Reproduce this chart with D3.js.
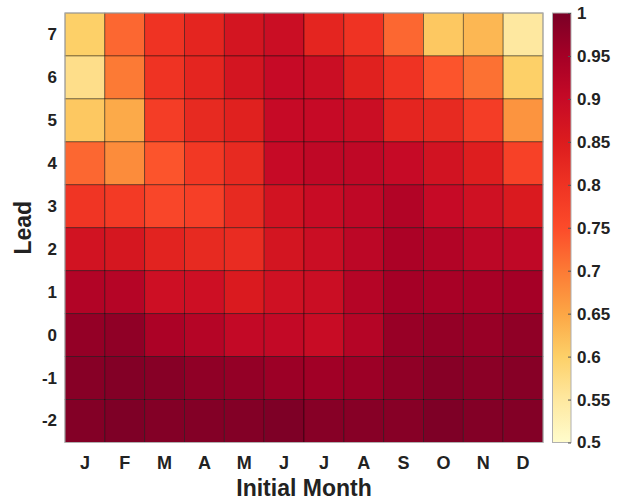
<!DOCTYPE html>
<html><head><meta charset="utf-8">
<script src="https://cdn.jsdelivr.net/npm/d3@7"></script>
<style>body{margin:0;background:#fff;} svg{display:block;}</style>
</head><body>
<script>
const months = ["J","F","M","A","M","J","J","A","S","O","N","D"];
const leads = [7,6,5,4,3,2,1,0,-1,-2];
// values[row][col], rows in order of `leads`
const lead7  = [0.60,0.72,0.80,0.83,0.87,0.89,0.83,0.80,0.72,0.61,0.63,0.55];
const lead6  = [0.57,0.70,0.80,0.83,0.87,0.90,0.89,0.84,0.80,0.74,0.71,0.60];
const lead5  = [0.61,0.645,0.78,0.82,0.84,0.90,0.90,0.89,0.83,0.82,0.78,0.67];
const lead4  = [0.72,0.68,0.74,0.79,0.82,0.90,0.91,0.91,0.90,0.875,0.845,0.77];
const lead3  = [0.795,0.785,0.76,0.775,0.82,0.875,0.895,0.91,0.93,0.90,0.88,0.855];
const lead2  = [0.875,0.865,0.835,0.82,0.815,0.87,0.89,0.915,0.94,0.93,0.915,0.91];
const lead1  = [0.93,0.925,0.885,0.885,0.855,0.88,0.89,0.925,0.95,0.945,0.945,0.95];
const lead0  = [0.97,0.975,0.94,0.925,0.905,0.905,0.895,0.925,0.965,0.97,0.965,0.975];
const leadm1 = [0.985,0.99,0.985,0.975,0.97,0.96,0.955,0.96,0.975,0.985,0.98,0.985];
const leadm2 = [0.99,0.995,0.99,0.99,0.99,0.995,0.985,0.985,0.985,0.995,0.99,0.99];
const values = [lead7,lead6,lead5,lead4,lead3,lead2,lead1,lead0,leadm1,leadm2];
const cbTicks = [0.5,0.55,0.6,0.65,0.7,0.75,0.8,0.85,0.9,0.95,1];
const cbColors = ["#fffccc","#fee8a0","#fdd068","#fca645","#fc7a35","#fc4b2a","#ef3323","#dc1c1e","#c60a26","#a50026","#7a0026"];

(function(){
const W = 621, H = 500;
const pL = 65, pR = 543, pT = 13, pB = 442.5;
const cbL = 552.5, cbR = 571;
const font = "'Liberation Sans', Arial, Helvetica, sans-serif";

const svg = d3.select("body").append("svg").attr("width", W).attr("height", H);

const x = d3.scaleBand().domain(d3.range(months.length)).range([pL, pR]);
const y = d3.scaleBand().domain(leads).range([pT, pB]);
const color = d3.scaleLinear().domain(cbTicks).range(cbColors).interpolate(d3.interpolateRgb).clamp(true);

const cells = [];
values.forEach((row, ri) => row.forEach((v, ci) => cells.push({lead: leads[ri], col: ci, v})));

svg.append("g").selectAll("rect").data(cells).join("rect")
  .attr("x", d => x(d.col)).attr("y", d => y(d.lead))
  .attr("width", x.bandwidth()).attr("height", y.bandwidth())
  .attr("fill", d => color(d.v))
  .attr("stroke", "rgba(0,0,0,0.5)").attr("stroke-width", 0.8);

svg.append("rect").attr("x", pL).attr("y", pT).attr("width", pR-pL).attr("height", pB-pT)
  .attr("fill", "none").attr("stroke", "#b0b0b0").attr("stroke-width", 1);

const xAxis = svg.append("g").attr("transform", `translate(0,${pB})`)
  .call(d3.axisBottom(x).tickFormat(i => months[i]).tickSize(0).tickPadding(14));
xAxis.select(".domain").remove();
xAxis.selectAll("text").attr("font-family", font).attr("font-size", 18).attr("font-weight", "bold").attr("fill", "#222");

const yAxis = svg.append("g").attr("transform", `translate(${pL},0)`)
  .call(d3.axisLeft(y).tickSize(0).tickPadding(8));
yAxis.select(".domain").remove();
yAxis.selectAll("text").attr("font-family", font).attr("font-size", 17).attr("font-weight", "bold").attr("fill", "#222");

svg.append("text").attr("x", (pL+pR)/2).attr("y", 496).attr("text-anchor", "middle")
  .attr("font-family", font).attr("font-size", 23).attr("font-weight", "bold").attr("fill", "#222")
  .text("Initial Month");
svg.append("text").attr("transform", `translate(31,${(pT+pB)/2}) rotate(-90)`).attr("text-anchor", "middle")
  .attr("font-family", font).attr("font-size", 23).attr("font-weight", "bold").attr("fill", "#222")
  .text("Lead");

const defs = svg.append("defs");
const grad = defs.append("linearGradient").attr("id", "cb").attr("x1", 0).attr("y1", 1).attr("x2", 0).attr("y2", 0);
cbTicks.forEach((t, i) => grad.append("stop").attr("offset", (t - 0.5) / 0.5).attr("stop-color", cbColors[i]));
const cy = d3.scaleLinear().domain([0.5, 1]).range([pB, pT]);
svg.append("rect").attr("x", cbL).attr("y", pT).attr("width", cbR-cbL).attr("height", pB-pT)
  .attr("fill", "url(#cb)").attr("stroke", "#b0b0b0").attr("stroke-width", 1);
const cAxis = svg.append("g").attr("transform", `translate(${cbR},0)`)
  .call(d3.axisRight(cy).tickValues(cbTicks).tickFormat(d => String(+d.toFixed(2))).tickSizeInner(-3).tickSizeOuter(0).tickPadding(6));
cAxis.select(".domain").remove();
cAxis.selectAll("line").attr("stroke", "#555");
cAxis.selectAll("text").attr("font-family", font).attr("font-size", 17).attr("font-weight", "bold").attr("fill", "#222");
})();
</script>
</body></html>
